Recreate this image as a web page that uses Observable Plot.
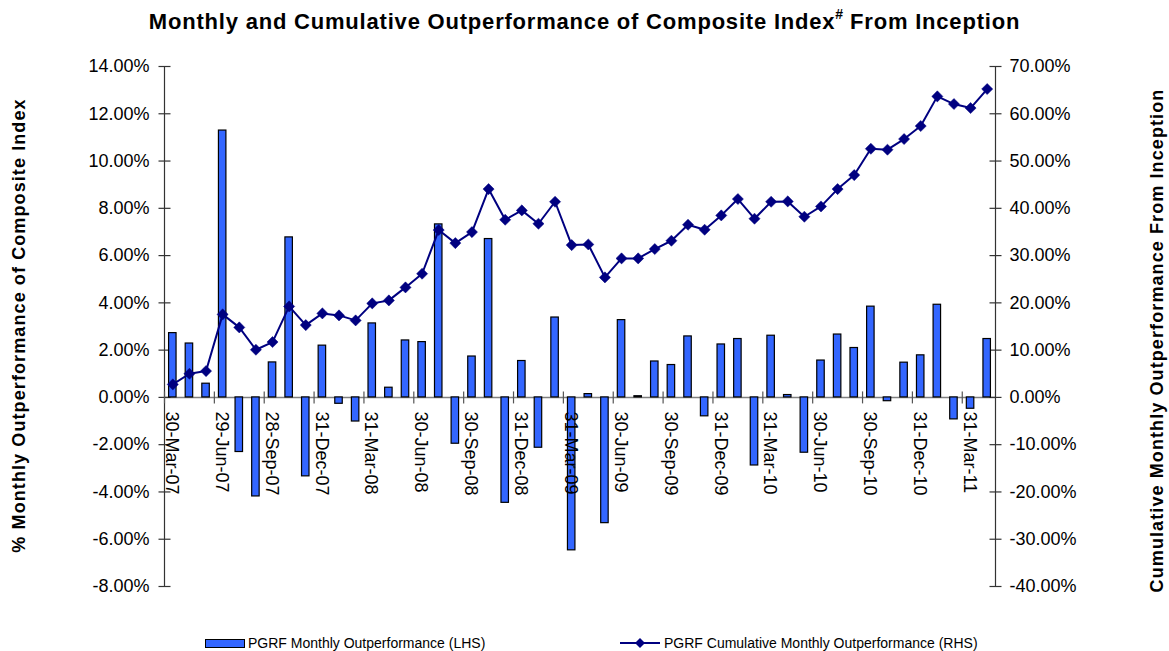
<!DOCTYPE html>
<html>
<head>
<meta charset="utf-8">
<script src="https://cdn.jsdelivr.net/npm/d3@7"></script>
<script src="https://cdn.jsdelivr.net/npm/@observablehq/plot@0.6"></script>
<style>
  html, body { margin: 0; padding: 0; background: #fff; }
  #wrap { position: relative; width: 1169px; height: 651px; overflow: hidden; font-family: "Liberation Sans", Arial, sans-serif; color: #000; }
  #title { position: absolute; left: 0; width: 1169px; top: 7px; text-align: center; font-weight: bold; font-size: 22px; letter-spacing: 0.8px; line-height: 30px; }
  #title sup { font-size: 14px; line-height: 0; position: relative; top: -2px; letter-spacing: 0; }
  #chart { position: absolute; left: 0; top: 45px; }
  .leg { position: absolute; top: 634px; font-size: 14px; line-height: 18px; display: flex; align-items: center; }
  .sw { display: inline-block; width: 38px; height: 7px; background: #3366ff; border: 1px solid #000; margin-right: 3px; }
</style>
</head>
<body>
<div id="wrap">
  <div id="title">Monthly and Cumulative Outperformance of Composite Index<sup>#</sup> From Inception</div>
  <div id="chart"></div>
  <div class="leg" style="left:205px"><span class="sw"></span>PGRF Monthly Outperformance (LHS)</div>
  <div class="leg" style="left:620px"><svg width="42" height="14" style="margin-right:2px"><line x1="0" y1="7" x2="40" y2="7" stroke="#000080" stroke-width="2"/><path d="M20,2 L25,7 L20,12 L15,7 Z" fill="#000080"/></svg>PGRF Cumulative Monthly Outperformance (RHS)</div>
</div>
<script>
// Months (categories)
const months = [
  "Mar-07","Apr-07","May-07","Jun-07","Jul-07","Aug-07","Sep-07","Oct-07","Nov-07","Dec-07",
  "Jan-08","Feb-08","Mar-08","Apr-08","May-08","Jun-08","Jul-08","Aug-08","Sep-08","Oct-08","Nov-08","Dec-08",
  "Jan-09","Feb-09","Mar-09","Apr-09","May-09","Jun-09","Jul-09","Aug-09","Sep-09","Oct-09","Nov-09","Dec-09",
  "Jan-10","Feb-10","Mar-10","Apr-10","May-10","Jun-10","Jul-10","Aug-10","Sep-10","Oct-10","Nov-10","Dec-10",
  "Jan-11","Feb-11","Mar-11","Apr-11"
];
// PGRF Monthly Outperformance (LHS, %)
const monthly = [
  2.72, 2.28, 0.58, 11.29, -2.31, -4.19, 1.48, 6.77, -3.34, 2.19,
  -0.27, -1.02, 3.13, 0.41, 2.41, 2.34, 7.32, -1.96, 1.73, 6.70, -4.46, 1.54,
  -2.13, 3.38, -6.47, 0.14, -5.32, 3.27, 0.05, 1.52, 1.37, 2.58, -0.80, 2.24,
  2.47, -2.88, 2.61, 0.10, -2.34, 1.56, 2.66, 2.09, 3.84, -0.16, 1.47, 1.78,
  3.92, -0.93, -0.48, 2.47
];
// PGRF Cumulative Monthly Outperformance (RHS, %)
const cumulative = [
  2.75, 5.0, 5.57, 17.56, 14.81, 10.08, 11.71, 19.25, 15.3, 17.77,
  17.35, 16.29, 19.89, 20.52, 23.27, 26.16, 35.4, 32.64, 34.97, 44.07, 37.58, 39.56,
  36.74, 41.39, 32.22, 32.36, 25.39, 29.41, 29.41, 31.38, 33.14, 36.53, 35.47, 38.5,
  41.96, 37.8, 41.39, 41.46, 38.22, 40.4, 44.07, 47.03, 52.6, 52.4, 54.65, 57.4,
  63.68, 62.06, 61.21, 65.23
];
// X tick labels (every third month)
const tickMonths = ["Mar-07","Jun-07","Sep-07","Dec-07","Mar-08","Jun-08","Sep-08","Dec-08","Mar-09","Jun-09","Sep-09","Dec-09","Mar-10","Jun-10","Sep-10","Dec-10","Mar-11"];
const tickLabels = ["30-Mar-07","29-Jun-07","28-Sep-07","31-Dec-07","31-Mar-08","30-Jun-08","30-Sep-08","31-Dec-08","31-Mar-09","30-Jun-09","30-Sep-09","31-Dec-09","31-Mar-10","30-Jun-10","30-Sep-10","31-Dec-10","31-Mar-11"];
// Y axes
const leftTicks = [-8, -6, -4, -2, 0, 2, 4, 6, 8, 10, 12, 14];
const rightTicks = [-40, -30, -20, -10, 0, 10, 20, 30, 40, 50, 60, 70];
const leftTitle = "% Monthly Outperformance of Composite Index";
const rightTitle = "Cumulative Monthly Outperformance From Inception";

const leftDomain = [-8, 14];
const rightDomain = [-40, 70];
const ratio = (leftDomain[1] - leftDomain[0]) / (rightDomain[1] - rightDomain[0]);

const data = months.map((m, i) => ({month: m, monthly: monthly[i], cum: cumulative[i] * ratio}));
const labelOf = new Map(tickMonths.map((m, i) => [m, tickLabels[i]]));
const rightLabelOf = new Map(rightTicks.map((r, i) => [leftTicks[i], r]));

const W = 1169, H = 580, ML = 164, MR = 174, MT = 21, MB = 39;
const step = (W - ML - MR) / months.length;

const vtick = {draw(ctx) { ctx.moveTo(0, -6); ctx.lineTo(0, 6); }};
const htick = {draw(ctx) { ctx.moveTo(-6, 0); ctx.lineTo(6, 0); }};

const chart = Plot.plot({
  width: W, height: H,
  marginLeft: ML, marginRight: MR, marginTop: MT, marginBottom: MB,
  style: {fontFamily: "'Liberation Sans', Arial, sans-serif", fontSize: "18px", color: "#000", background: "#fff"},
  x: {domain: months, paddingInner: 0.55, paddingOuter: 0.275, axis: null},
  y: {domain: leftDomain, axis: null},
  marks: [
    Plot.ruleY([0], {stroke: "#808080", strokeWidth: 1.5}),
    Plot.ruleX([months[0]], {dx: -step / 2, stroke: "#333", strokeWidth: 1.2}),
    Plot.ruleX([months[months.length - 1]], {dx: step / 2, stroke: "#333", strokeWidth: 1.2}),
    Plot.dot(leftTicks, {y: d => d, frameAnchor: "left", symbol: htick, stroke: "#333", strokeWidth: 1.2, r: 6}),
    Plot.dot(leftTicks, {y: d => d, frameAnchor: "right", symbol: htick, stroke: "#333", strokeWidth: 1.2, r: 6}),
    Plot.dot(tickMonths, {x: d => d, y: () => 0, dx: -step / 2, symbol: vtick, stroke: "#555", strokeWidth: 1.2, r: 6}),
    Plot.axisY(leftTicks, {anchor: "left", tickSize: 0, tickPadding: 15, tickFormat: d => d.toFixed(2) + "%", label: null, fontSize: 18}),
    Plot.axisY(leftTicks, {anchor: "right", tickSize: 0, tickPadding: 14, tickFormat: d => rightLabelOf.get(d).toFixed(2) + "%", label: null, fontSize: 18}),
    Plot.barY(data, {x: "month", y: "monthly", fill: "#3366ff", stroke: "#000", strokeWidth: 1.2}),
    Plot.text(tickMonths, {x: d => d, y: () => 0, text: d => labelOf.get(d), rotate: 90, textAnchor: "start", dy: 14, dx: -1, fontSize: 18, fill: "#000"}),
    Plot.line(data, {x: "month", y: "cum", stroke: "#000080", strokeWidth: 2}),
    Plot.dot(data, {x: "month", y: "cum", symbol: "diamond2", r: 5, fill: "#000080", stroke: "#000080", strokeWidth: 0.5}),
    Plot.text([leftTitle], {frameAnchor: "left", textAnchor: "middle", dx: -145, dy: -1, rotate: -90, fontWeight: "bold", fontSize: 18, fill: "#000"}),
    Plot.text([rightTitle], {frameAnchor: "right", textAnchor: "middle", dx: 162, dy: 14, rotate: -90, fontWeight: "bold", fontSize: 18, fill: "#000"})
  ]
});
d3.select(chart).selectAll("text").filter(function() {
  const t = this.textContent;
  return t === leftTitle || t === rightTitle;
}).style("letter-spacing", "1.1px");
document.getElementById("chart").appendChild(chart);
</script>
</body>
</html>
